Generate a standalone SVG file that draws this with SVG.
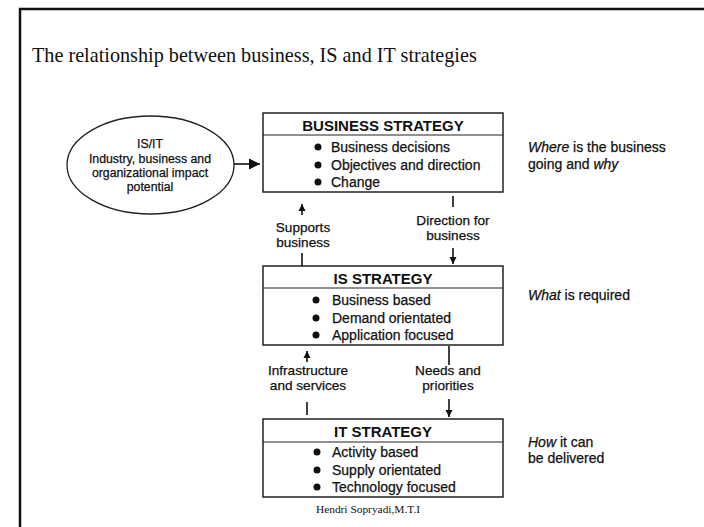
<svg xmlns="http://www.w3.org/2000/svg" width="704" height="527" viewBox="0 0 704 527">
<defs>
<style>
.t{font-family:"Liberation Sans",Arial,sans-serif;font-size:14px;fill:#111;stroke:#111;stroke-width:0.25}
.c{font-family:"Liberation Sans",Arial,sans-serif;font-size:13.6px;fill:#111;stroke:#111;stroke-width:0.25}
.h{font-family:"Liberation Sans",Arial,sans-serif;font-size:15px;font-weight:bold;fill:#111}
.e{font-family:"Liberation Sans",Arial,sans-serif;font-size:12.3px;fill:#111;stroke:#111;stroke-width:0.25}
.box{fill:#fff;stroke:#222;stroke-width:1.5}
.div{stroke:#222;stroke-width:1.2}
.ln{stroke:#111;stroke-width:1.6;fill:none}
.mid{text-anchor:middle}
</style>
<marker id="ah" viewBox="0 0 10 10" refX="10" refY="5" markerWidth="7" markerHeight="8" markerUnits="userSpaceOnUse" orient="auto">
<path d="M0,0 L10,5 L0,10 z" fill="#111"/>
</marker>
<marker id="ahb" viewBox="0 0 10 10" refX="10" refY="5" markerWidth="11" markerHeight="12" markerUnits="userSpaceOnUse" orient="auto">
<path d="M0,0 L10,5 L0,10 z" fill="#111"/>
</marker>
</defs>
<rect width="704" height="527" fill="#fff"/>
<path d="M20,527 L20,9 L704,9" fill="none" stroke="#111" stroke-width="2.5"/>
<text x="32" y="62" font-family="'Liberation Serif','Times New Roman',serif" font-size="20.2" fill="#111">The relationship between business, IS and IT strategies</text>

<g id="isit">
<ellipse cx="150.5" cy="165" rx="83.5" ry="49" fill="#fff" stroke="#222" stroke-width="1.3"/>
<text class="e mid" x="150" y="148">IS/IT</text>
<text class="e mid" x="150" y="163">Industry, business and</text>
<text class="e mid" x="150" y="177">organizational impact</text>
<text class="e mid" x="150" y="191">potential</text>
</g>

<g id="business">
<rect class="box" x="263" y="113" width="240" height="79"/>
<line class="div" x1="263" y1="135" x2="503" y2="135"/>
<text class="h mid" x="383" y="131">BUSINESS STRATEGY</text>
<circle cx="318" cy="147" r="3.5" fill="#111"/><text class="t" x="331" y="152">Business decisions</text>
<circle cx="318" cy="165" r="3.5" fill="#111"/><text class="t" x="331" y="170">Objectives and direction</text>
<circle cx="318" cy="182" r="3.5" fill="#111"/><text class="t" x="331" y="187">Change</text>
</g>

<g id="is">
<rect class="box" x="263" y="266" width="240" height="79"/>
<line class="div" x1="263" y1="288" x2="503" y2="288"/>
<text class="h mid" x="383" y="284">IS STRATEGY</text>
<circle cx="316" cy="300" r="3.5" fill="#111"/><text class="t" x="332" y="305">Business based</text>
<circle cx="316" cy="318" r="3.5" fill="#111"/><text class="t" x="332" y="323">Demand orientated</text>
<circle cx="316" cy="335" r="3.5" fill="#111"/><text class="t" x="332" y="340">Application focused</text>
</g>

<g id="it">
<rect class="box" x="263" y="419" width="240" height="78"/>
<line class="div" x1="263" y1="442" x2="503" y2="442"/>
<text class="h mid" x="383" y="437">IT STRATEGY</text>
<circle cx="317" cy="452" r="3.5" fill="#111"/><text class="t" x="332" y="457">Activity based</text>
<circle cx="317" cy="470" r="3.5" fill="#111"/><text class="t" x="332" y="475">Supply orientated</text>
<circle cx="317" cy="487" r="3.5" fill="#111"/><text class="t" x="332" y="492">Technology focused</text>
</g>

<g id="notes">
<text class="t" x="528" y="152"><tspan font-style="italic">Where</tspan> is the business</text>
<text class="t" x="528" y="169">going and <tspan font-style="italic">why</tspan></text>
<text class="t" x="528" y="300"><tspan font-style="italic">What</tspan> is required</text>
<text class="t" x="528" y="447"><tspan font-style="italic">How</tspan> it can</text>
<text class="t" x="528" y="463">be delivered</text>
</g>

<g id="connectors">
<line class="ln" x1="234" y1="164" x2="260" y2="164" stroke-width="2.2" marker-end="url(#ahb)"/>
<line class="ln" x1="302" y1="215" x2="302" y2="204" marker-end="url(#ah)"/>
<line class="ln" x1="302" y1="253" x2="302" y2="266"/>
<text class="c mid" x="303" y="232">Supports</text>
<text class="c mid" x="303" y="247">business</text>
<line class="ln" x1="453" y1="196" x2="453" y2="207"/>
<text class="c mid" x="453" y="225">Direction for</text>
<text class="c mid" x="453" y="240">business</text>
<line class="ln" x1="453" y1="248" x2="453" y2="264" marker-end="url(#ah)"/>
<line class="ln" x1="307" y1="362" x2="307" y2="351" marker-end="url(#ah)"/>
<text class="c mid" x="308" y="375">Infrastructure</text>
<text class="c mid" x="308" y="390">and services</text>
<line class="ln" x1="307" y1="402" x2="307" y2="415"/>
<line class="ln" x1="449" y1="346" x2="449" y2="365"/>
<text class="c mid" x="448" y="375">Needs and</text>
<text class="c mid" x="448" y="390">priorities</text>
<line class="ln" x1="449" y1="399" x2="449" y2="417" marker-end="url(#ah)"/>
</g>

<text x="368" y="513" text-anchor="middle" font-family="'Liberation Serif','Times New Roman',serif" font-size="11.4" fill="#111">Hendri Sopryadi,M.T.I</text>
</svg>
